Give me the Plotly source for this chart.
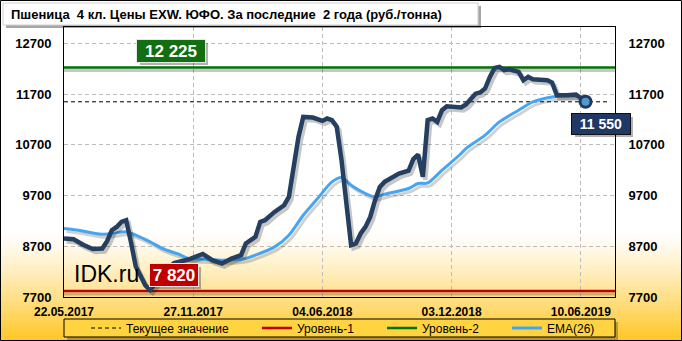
import plotly.graph_objects as go

# ---------------- data ----------------
tick_weeks = [0, 27, 54, 81, 108]
tick_labels = ["22.05.2017", "27.11.2017", "04.06.2018", "03.12.2018", "10.06.2019"]

price_week = [0, 2, 4, 6, 8, 9, 10, 11, 12, 13, 14, 15, 17, 18, 19, 21, 23, 26, 29, 31,
              33, 35, 37, 38, 40, 41, 42, 44, 46, 47, 48, 49, 50, 52, 54, 55, 56, 57, 58, 59,
              60, 61, 62, 63, 64, 65, 66, 67, 68, 70, 72, 73, 74, 75, 76, 77, 78, 79, 80, 82,
              83, 84, 85, 86, 87, 88, 89, 90, 91, 92, 93, 95, 96, 97, 98, 101, 102, 103, 105, 107, 109]
price = [8855, 8840, 8730, 8645, 8655, 8800, 9017, 9082, 9181, 9215, 8780, 8300, 7930, 7840, 7960, 8190, 8370, 8440, 8550, 8426,
         8361, 8459, 8524, 8755, 8885, 9181, 9214, 9378, 9510, 9676, 10266, 10857, 11252, 11240, 11173, 11220, 11190, 11054, 10398, 9609,
         8721, 8755, 8952, 9082, 9280, 9609, 9871, 9970, 10017, 10135, 10190, 10420, 10510, 10070, 11186, 11220, 11153, 11384, 11463, 11449,
         11440, 11496, 11620, 11710, 11733, 11812, 12040, 12218, 12238, 12173, 12192, 12139, 11975, 12040, 11995, 11975, 11930, 11680, 11680, 11693, 11550]

ema_week = [0, 3, 6, 8, 10, 13, 15, 18, 21, 24, 26, 30, 35, 38, 40, 44, 47, 50, 53, 56,
            58, 60, 63, 65, 67, 72, 74, 76, 79, 83, 84, 88, 91, 95, 98, 102, 105, 109]
ema = [9051, 9017, 8964, 8938, 8952, 8984, 8919, 8787, 8637, 8544, 8459, 8440, 8426, 8459, 8524, 8688, 8919, 9313, 9642, 9970,
       10057, 9905, 9741, 9674, 9727, 9840, 9938, 9950, 10200, 10530, 10628, 10891, 11153, 11384, 11547, 11646, 11666, 11646]

level1 = 7820
level2 = 12225
current = 11550

y_ticks = [7700, 8700, 9700, 10700, 11700, 12700]

title_text = "Пшеница  4 кл. Цены EXW. ЮФО. За последние  2 года (руб./тонна)"
legend_names = ["Текущее значение", "Уровень-1", "Уровень-2", "EMA(26)"]

# ---------------- layout geometry ----------------
W, H = 682, 341
ML, MR, MT, MB = 64, 67, 27, 44
PW, PH = W - ML - MR, H - MT - MB
X_RANGE = [0, 115.15]
Y_RANGE = [7700, 13025]


def pxx(px):
    return (px - ML) / PW


def pxy(py):
    return (H - MB - py) / PH


def fmt(v):
    return f"{v:,}".replace(",", " ")


# colours
C_PRICE = "#243F60"
C_EMA = "#45A5F5"
C_RED = "#C00000"
C_GREEN = "#007000"
FONT = "Liberation Sans, Arial, sans-serif"

# shadow offsets (in data units) for a small down-right drop shadow
dx = 2.5 * (X_RANGE[1] - X_RANGE[0]) / PW
dy = 3.0 * (Y_RANGE[1] - Y_RANGE[0]) / PH
SH = "rgba(0,0,0,0.22)"

fig = go.Figure()

# level lines (with shadows)
for lv, col, name, lg in [(level1, C_RED, legend_names[1], "legend2"),
                          (level2, C_GREEN, legend_names[2], "legend3")]:
    fig.add_trace(go.Scatter(x=X_RANGE, y=[lv - dy, lv - dy], mode="lines",
                             line=dict(color=SH, width=3), showlegend=False, hoverinfo="skip"))
    fig.add_trace(go.Scatter(x=X_RANGE, y=[lv, lv], mode="lines", name=name, legend=lg,
                             line=dict(color=col, width=2.5)))

# current value dashed line
fig.add_trace(go.Scatter(x=[X_RANGE[0], X_RANGE[1] - 1], y=[current, current], mode="lines",
                         name=legend_names[0], legend="legend",
                         line=dict(color="black", width=1, dash="4px,3px")))

# EMA shadow + EMA
fig.add_trace(go.Scatter(x=[w + dx for w in ema_week], y=[v - dy for v in ema], mode="lines",
                         line=dict(color="rgba(0,0,0,0.18)", width=3, shape="spline", smoothing=0.8),
                         showlegend=False, hoverinfo="skip"))
fig.add_trace(go.Scatter(x=ema_week, y=ema, mode="lines", name=legend_names[3], legend="legend4",
                         line=dict(color=C_EMA, width=3, shape="spline", smoothing=0.8)))

# price shadow + price
fig.add_trace(go.Scatter(x=[w + dx for w in price_week], y=[v - dy for v in price], mode="lines",
                         line=dict(color=SH, width=4.5), showlegend=False, hoverinfo="skip"))
fig.add_trace(go.Scatter(x=price_week, y=price, mode="lines", showlegend=False,
                         line=dict(color=C_PRICE, width=4.5)))

# last point marker
fig.add_trace(go.Scatter(x=[price_week[-1]], y=[price[-1]], mode="markers", showlegend=False,
                         marker=dict(size=11, color="#4E9AC9", line=dict(color="#1F3864", width=3))))

# ---------------- background gradient & frames (shapes) ----------------
shapes = []
top_g, bot_g = 232, H
steps = 40
for k in range(steps):
    y0 = top_g + (bot_g - top_g) * k / steps
    y1 = top_g + (bot_g - top_g) * (k + 1) / steps
    t = ((k + 0.5) / steps) ** 1.2
    r, g, b = 255, int(255 - t * (255 - 198)), int(255 - t * (255 - 35))
    shapes.append(dict(type="rect", xref="paper", yref="paper", x0=pxx(0), x1=pxx(W),
                       y0=pxy(y1 + 0.5), y1=pxy(y0), fillcolor=f"rgb({r},{g},{b})",
                       line=dict(width=0), layer="below"))

# outer border
shapes.append(dict(type="rect", xref="paper", yref="paper", x0=pxx(0.5), x1=pxx(W - 0.5),
                   y0=pxy(H - 0.5), y1=pxy(0.5), line=dict(color="black", width=1), layer="above"))

# title box with shadow
shapes.append(dict(type="rect", xref="paper", yref="paper", x0=pxx(6), x1=pxx(481),
                   y0=pxy(28), y1=pxy(6), fillcolor="rgba(0,0,0,0.35)", line=dict(width=0), layer="above"))
shapes.append(dict(type="rect", xref="paper", yref="paper", x0=pxx(3), x1=pxx(478),
                   y0=pxy(25), y1=pxy(3), fillcolor="white", line=dict(color="#D0D0D0", width=1), layer="above"))

# legend box with shadow
shapes.append(dict(type="rect", xref="paper", yref="paper", x0=pxx(67), x1=pxx(618),
                   y0=pxy(340), y1=pxy(322), fillcolor="rgba(0,0,0,0.25)", line=dict(width=0), layer="below"))
shapes.append(dict(type="rect", xref="paper", yref="paper", x0=pxx(64), x1=pxx(615),
                   y0=pxy(337), y1=pxy(319), fillcolor="rgb(255,212,64)", line=dict(color="black", width=1),
                   layer="below"))

# label box shadows
for (cx, cy, w, h) in [(171, 51, 68, 22), (174, 275, 48, 22), (601, 124, 58, 20)]:
    shapes.append(dict(type="rect", xref="paper", yref="paper",
                       x0=pxx(cx - w / 2 + 3), x1=pxx(cx + w / 2 + 3),
                       y0=pxy(cy + h / 2 + 3), y1=pxy(cy - h / 2 + 3),
                       fillcolor="rgba(0,0,0,0.3)", line=dict(width=0), layer="above"))

# ---------------- annotations ----------------
annotations = [
    dict(text=title_text, xref="paper", yref="paper", x=pxx(9), y=pxy(14.5), xanchor="left", yanchor="middle",
         showarrow=False, font=dict(family=FONT, size=13, color="black", weight="bold")),
    dict(text=fmt(level2), xref="paper", yref="paper", x=pxx(171), y=pxy(51), xanchor="center", yanchor="middle",
         showarrow=False, width=66, height=20, bgcolor="#116E11", bordercolor="#E8E8E8", borderwidth=1,
         font=dict(family=FONT, size=17, color="white", weight="bold")),
    dict(text=fmt(level1), xref="paper", yref="paper", x=pxx(174), y=pxy(275), xanchor="center", yanchor="middle",
         showarrow=False, width=46, height=20, bgcolor=C_RED, bordercolor="#E8E8E8", borderwidth=1,
         font=dict(family=FONT, size=17, color="white", weight="bold")),
    dict(text=fmt(current), xref="paper", yref="paper", x=pxx(601), y=pxy(124), xanchor="center", yanchor="middle",
         showarrow=False, width=56, height=18, bgcolor="#1F3864", bordercolor="#111111", borderwidth=1,
         font=dict(family=FONT, size=14, color="white", weight="bold")),
    dict(text="IDK.ru", xref="paper", yref="paper", x=pxx(72), y=pxy(273.5), xanchor="left", yanchor="middle",
         showarrow=False, font=dict(family=FONT, size=23, color="black")),
]

tickfont = dict(family=FONT, size=13, color="black", weight="bold")

leg_common = dict(orientation="h", yanchor="middle", xanchor="left", bgcolor="rgba(0,0,0,0)",
                  borderwidth=0, font=dict(family=FONT, size=12, color="black"), itemwidth=30)

fig.update_layout(
    width=W, height=H,
    margin=dict(l=ML, r=MR, t=MT, b=MB, autoexpand=False),
    paper_bgcolor="white", plot_bgcolor="rgba(0,0,0,0)",
    xaxis=dict(range=X_RANGE, tickvals=tick_weeks, ticktext=tick_labels, showgrid=True,
               gridcolor="#BDBDBD", griddash="4px,3px", gridwidth=1, zeroline=False,
               showline=True, linecolor="black", linewidth=1, mirror=True,
               ticks="outside", ticklen=4, tickcolor="rgba(0,0,0,0)",
               tickfont=dict(family=FONT, size=12, color="black", weight="bold")),
    yaxis=dict(range=Y_RANGE, tickvals=y_ticks, tickformat="d", showgrid=True, gridcolor="#BDBDBD",
               griddash="4px,3px", zeroline=False, showline=True, linecolor="black", linewidth=1, mirror=True,
               ticks="outside", ticklen=9, tickcolor="rgba(0,0,0,0)", tickfont=tickfont),
    yaxis2=dict(range=Y_RANGE, tickvals=y_ticks, tickformat="d", overlaying="y", side="right", showgrid=False,
                zeroline=False, showline=False, ticks="outside", ticklen=10, tickcolor="rgba(0,0,0,0)",
                tickfont=tickfont),
    shapes=shapes,
    annotations=annotations,
    legend=dict(x=pxx(86), y=pxy(328), **leg_common),
    legend2=dict(x=pxx(257), y=pxy(328), **leg_common),
    legend3=dict(x=pxx(382), y=pxy(328), **leg_common),
    legend4=dict(x=pxx(507), y=pxy(328), **leg_common),
    showlegend=True,
)

# invisible trace so the right axis is drawn
fig.add_trace(go.Scatter(x=[X_RANGE[0]], y=[Y_RANGE[0]], yaxis="y2", mode="markers",
                         marker=dict(opacity=0), showlegend=False, hoverinfo="skip"))

fig.write_html("out.html")
